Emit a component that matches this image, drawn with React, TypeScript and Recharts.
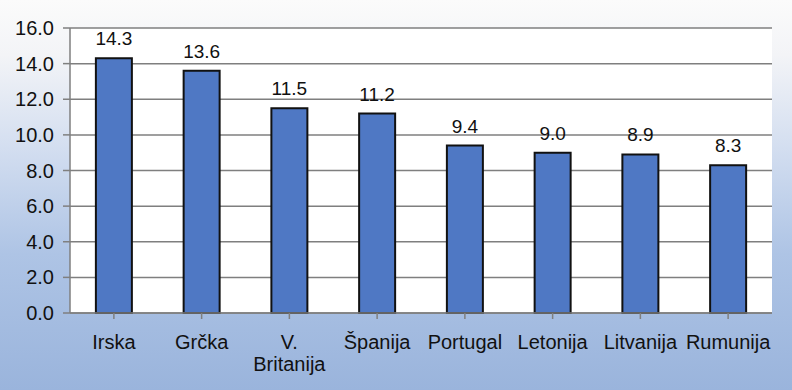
import React from 'react';
import {
  BarChart, Bar, XAxis, YAxis, CartesianGrid, LabelList,
} from 'recharts';

const COUNTRIES = ['Irska', 'Grčka', 'V. Britanija', 'Španija', 'Portugal', 'Letonija', 'Litvanija', 'Rumunija'];
const VALUES = [14.3, 13.6, 11.5, 11.2, 9.4, 9.0, 8.9, 8.3];
const Y_TICKS = [0, 2, 4, 6, 8, 10, 12, 14, 16];

const FONT = '"Liberation Sans", Arial, sans-serif';

const data = COUNTRIES.map((name, i) => ({ name, value: VALUES[i] }));

// splits long labels over two lines, like "V. Britanija"
function CountryTick(props: any) {
  const { x, y, payload } = props;
  const label: string = payload.value;
  const lines = label.length > 10 ? label.split(' ') : [label];
  return (
    <text x={x} y={y} textAnchor="middle" fill="#111" fontSize={20} fontFamily={FONT}>
      {lines.map((l, i) => (
        <tspan key={i} x={x} dy={i === 0 ? 28 : 22}>{l}</tspan>
      ))}
    </text>
  );
}

export default function App() {
  return (
    <div
      style={{
        position: 'absolute', top: 0, left: 0, width: 792, height: 390,
        background: 'linear-gradient(180deg, #fbfbfb 0%, #f3f4f7 14%, #d3def0 38%, #aec4e5 65%, #9ab4dc 100%)',
      }}
    >
      <BarChart
        width={792}
        height={390}
        data={data}
        margin={{ top: 28, right: 20, left: 0, bottom: 0 }}
        barCategoryGap="29.5%"
      >
        <CartesianGrid vertical={false} stroke="#7f7f7f" strokeWidth={1.5} fill="#ffffff" />
        <XAxis
          dataKey="name"
          height={77}
          stroke="#7f7f7f"
          strokeWidth={1.5}
          tickSize={6}
          tick={<CountryTick />}
          interval={0}
        />
        <YAxis
          domain={[0, 16]}
          ticks={Y_TICKS}
          width={70}
          stroke="#7f7f7f"
          strokeWidth={1.5}
          tickSize={7}
          tickMargin={9}
          tickFormatter={(v: number) => v.toFixed(1)}
          tick={{ fill: '#111', fontSize: 20, fontFamily: FONT }}
        />
        <YAxis
          yAxisId="right"
          orientation="right"
          width={0}
          tick={false}
          tickLine={false}
          stroke="#7f7f7f"
          strokeWidth={2}
        />
        <Bar dataKey="value" fill="#4f78c4" stroke="#111" strokeWidth={2} isAnimationActive={false}>
          <LabelList
            dataKey="value"
            position="top"
            offset={13}
            formatter={(v: any) => Number(v).toFixed(1)}
            style={{ fill: '#111', fontSize: 19, fontFamily: FONT }}
          />
        </Bar>
      </BarChart>
    </div>
  );
}
